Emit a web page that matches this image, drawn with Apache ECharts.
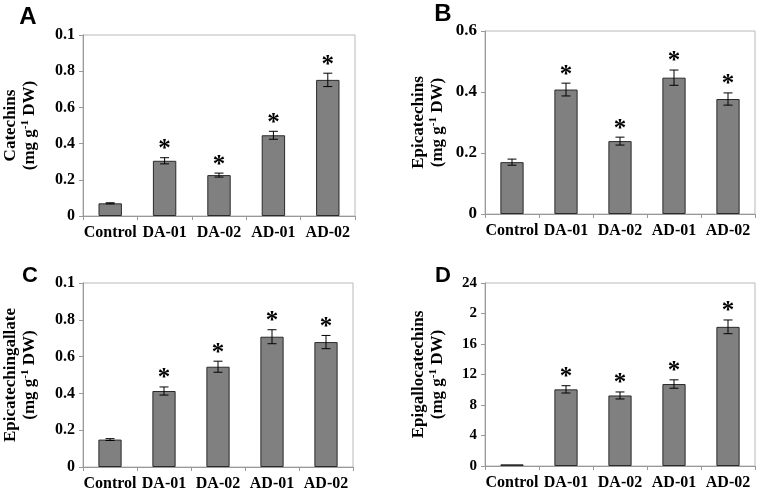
<!DOCTYPE html>
<html>
<head>
<meta charset="utf-8">
<script src="https://cdn.jsdelivr.net/npm/echarts@6/dist/echarts.min.js"></script>
<style>
html,body{margin:0;padding:0;background:#fff;}
#main{width:765px;height:495px;}
</style>
</head>
<body>
<div id="main"></div>
<script>
// ---- data ----
const categories = ['Control', 'DA-01', 'DA-02', 'AD-01', 'AD-02'];
const significant = [0, 1, 1, 1, 1];

const catechins = [0.07, 0.305, 0.226, 0.446, 0.752];
const catechinsErr = [0.003, 0.017, 0.011, 0.022, 0.037];

const epicatechins = [0.170, 0.408, 0.239, 0.447, 0.377];
const epicatechinsErr = [0.010, 0.021, 0.013, 0.025, 0.020];

const epicatechingallate = [0.149, 0.413, 0.545, 0.708, 0.679];
const epicatechingallateErr = [0.005, 0.022, 0.030, 0.038, 0.036];

const epigallocatechins = [0.22, 10.05, 9.25, 10.75, 18.25];
const epigallocatechinsErr = [0, 0.48, 0.46, 0.55, 0.90];

const tickLabelsA = ['0', '0.2', '0.4', '0.6', '0.8', '0.1'];
const tickLabelsB = ['0', '0.2', '0.4', '0.6'];
const tickLabelsC = ['0', '0.2', '0.4', '0.6', '0.8', '0.1'];
const tickLabelsD = ['0', '4', '8', '12', '16', '2', '24'];

const panelLetters = ['A', 'B', 'C', 'D'];
const yNames = ['Catechins', 'Epicatechins', 'Epicatechingallate', 'Epigallocatechins'];

// ---- layout/style ----
const SERIF = 'Liberation Serif';
const grids = [
  {left: 82, top: 35, width: 273, height: 181},
  {left: 485, top: 31, width: 270, height: 183},
  {left: 82, top: 283, width: 271, height: 184},
  {left: 485, top: 283, width: 270, height: 183}
];
const panels = [
  {vals: catechins, errs: catechinsErr, ticks: tickLabelsA, max: 1, interval: 0.2, labelSize: 16, nameGap: 44},
  {vals: epicatechins, errs: epicatechinsErr, ticks: tickLabelsB, max: 0.6, interval: 0.2, labelSize: 17, nameGap: 38},
  {vals: epicatechingallate, errs: epicatechingallateErr, ticks: tickLabelsC, max: 1, interval: 0.2, labelSize: 16, nameGap: 44},
  {vals: epigallocatechins, errs: epigallocatechinsErr, ticks: tickLabelsD, max: 24, interval: 4, labelSize: 15, nameGap: 38}
];
const letterPos = [
  {x: 28, y: 17, size: 24},
  {x: 443, y: 14, size: 24},
  {x: 30, y: 276, size: 22},
  {x: 443, y: 276, size: 22}
];

const option = {
  animation: false,
  backgroundColor: '#ffffff',
  grid: grids.map(g => Object.assign({show: true, borderColor: '#b8b8b8', borderWidth: 1, backgroundColor: 'transparent'}, g)),
  xAxis: grids.map((g, i) => ({
    type: 'category',
    gridIndex: i,
    data: categories,
    boundaryGap: true,
    axisLine: {show: true, lineStyle: {color: '#999', width: 1}},
    axisTick: {show: true, length: 4, alignWithLabel: false, lineStyle: {color: '#999'}},
    axisLabel: {color: '#000', fontFamily: SERIF, fontWeight: 'bold', fontSize: 16, margin: 9, interval: 0},
    splitLine: {show: false}
  })),
  yAxis: panels.map((p, i) => ({
    type: 'value',
    gridIndex: i,
    min: 0,
    max: p.max,
    interval: p.interval,
    axisLine: {show: true, lineStyle: {color: '#999', width: 1}},
    axisTick: {show: true, length: 4, lineStyle: {color: '#999'}},
    splitLine: {show: false},
    axisLabel: {
      color: '#000', fontFamily: SERIF, fontWeight: 'bold', fontSize: p.labelSize, margin: 8,
      formatter: (v) => p.ticks[Math.round(v / p.interval)]
    },
    name: '{t|' + yNames[i] + '}\n{t|(mg g}{s|-1}{t| DW)}',
    nameLocation: 'middle',
    nameGap: p.nameGap,
    nameTextStyle: {
      color: '#000',
      lineHeight: 19,
      rich: {
        t: {fontFamily: SERIF, fontWeight: 'bold', fontSize: 17, lineHeight: 19, color: '#000'},
        s: {fontFamily: SERIF, fontWeight: 'bold', fontSize: 11, lineHeight: 19, verticalAlign: 'top', color: '#000'}
      }
    }
  })),
  series: [],
  graphic: letterPos.map((l, i) => ({
    type: 'text',
    x: l.x,
    y: l.y,
    style: {
      text: panelLetters[i],
      font: 'bold ' + l.size + 'px "Liberation Sans", Arial, sans-serif',
      fill: '#000',
      align: 'center',
      verticalAlign: 'middle'
    }
  }))
};

panels.forEach((p, i) => {
  option.series.push({
    type: 'bar',
    xAxisIndex: i,
    yAxisIndex: i,
    data: p.vals,
    barWidth: '43%',
    itemStyle: {color: '#808080', borderColor: '#2a2a2a', borderWidth: 1}
  });
  option.series.push({
    type: 'custom',
    xAxisIndex: i,
    yAxisIndex: i,
    z: 5,
    data: p.vals.map((v, k) => [k, v, p.errs[k], significant[k]]),
    renderItem: function (params, api) {
      const x = api.value(0), v = api.value(1), e = api.value(2), sig = api.value(3);
      const top = api.coord([x, v + e]);
      const bot = api.coord([x, v - e]);
      const cx = top[0];
      const cap = 4.5;
      const ls = {stroke: '#000', lineWidth: 1};
      const children = [];
      if (e > 0) {
        children.push({type: 'line', shape: {x1: cx, y1: top[1], x2: cx, y2: bot[1]}, style: ls});
        children.push({type: 'line', shape: {x1: cx - cap, y1: top[1], x2: cx + cap, y2: top[1]}, style: ls});
        children.push({type: 'line', shape: {x1: cx - cap, y1: bot[1], x2: cx + cap, y2: bot[1]}, style: ls});
      }
      if (sig) {
        children.push({
          type: 'text',
          x: cx,
          y: top[1] - 8,
          style: {text: '*', font: 'bold 25px "Liberation Serif", serif', fill: '#000', align: 'center', verticalAlign: 'middle'}
        });
      }
      return {type: 'group', children: children};
    }
  });
});

const chart = echarts.init(document.getElementById('main'), null, {renderer: 'canvas'});
chart.setOption(option);
</script>
</body>
</html>
